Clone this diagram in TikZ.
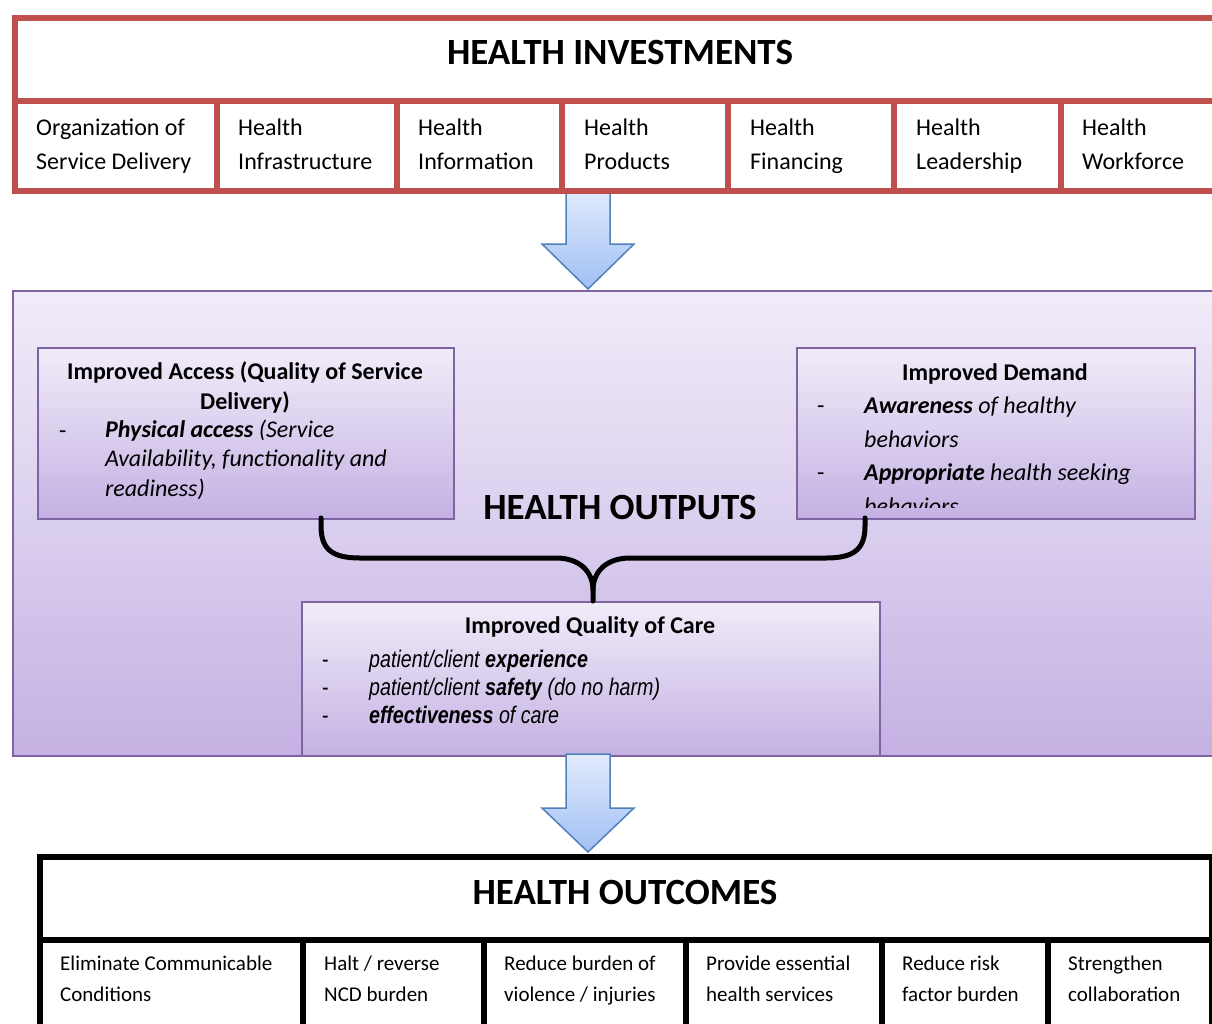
\documentclass[tikz,border=0pt]{standalone}
\usepackage{fontspec}
\setmainfont{Carlito}
\newfontfamily\narrowf[FakeStretch=0.82]{Liberation Sans}
\usetikzlibrary{calc}
\definecolor{invred}{HTML}{C0504D}
\definecolor{purpleedge}{HTML}{8064A2}
\definecolor{purpletop}{HTML}{F1ECF9}
\definecolor{purplebot}{HTML}{C4B1E3}
\definecolor{arrowedge}{HTML}{4F81BD}
\definecolor{arrowtop}{HTML}{E2ECFD}
\definecolor{arrowbot}{HTML}{A0BFF3}
\tikzset{
  invbox/.style={draw=invred, line width=6pt, fill=white, anchor=north west, inner sep=0pt},
  outbox/.style={draw=black, line width=5.5pt, fill=white, anchor=north west, inner sep=0pt},
  purplebox/.style={draw=purpleedge, line width=2pt, top color=purpletop, bottom color=purplebot, anchor=north west, inner sep=0pt},
  blockarrow/.style={draw=arrowedge, line width=1.5pt, top color=arrowtop, bottom color=arrowbot, line join=miter},
  bigtitle/.style={anchor=base, inner sep=0pt, font=\fontsize{37}{44}\selectfont\bfseries},
  celltext/.style={anchor=base west, align=left, inner sep=0pt, font=\fontsize{24}{34}\selectfont},
  smalltext/.style={anchor=base west, align=left, inner sep=0pt, font=\fontsize{21}{31}\selectfont},
  headtext/.style={anchor=base, align=center, inner sep=0pt, font=\fontsize{24}{29.2}\selectfont\bfseries},
  itemtext/.style={anchor=base west, align=left, inner sep=0pt, font=\fontsize{24}{29.2}\selectfont},
  itemtextwide/.style={anchor=base west, align=left, inner sep=0pt, font=\fontsize{24}{33.5}\selectfont},
  qualtext/.style={anchor=base west, align=left, inner sep=0pt, font=\narrowf\fontsize{24}{28}\selectfont},
  bracepath/.style={draw=black, line width=5pt, line cap=round, line join=round},
}
\begin{document}
\begin{tikzpicture}[x=1pt,y=-1pt]
\useasboundingbox (0,0) rectangle (1212,1023);
\clip (0,0) rectangle (1212,1023);
\fill[white] (0,0) rectangle (1212,1023);

% ---- arrow 1 (drawn first, frame covers its top)
\draw[blockarrow] (566,186) -- (610,186) -- (610,244) -- (634,244) -- (588,289) -- (542,244) -- (566,244) -- cycle;

% ---- HEALTH INVESTMENTS (multi-line nodes: base = last line)
\node[invbox, minimum width=1220pt, minimum height=83pt] (invhead) at (12,15) {};
\node[bigtitle] (invtitle) at (620,64) {HEALTH INVESTMENTS};
\node[invbox, minimum width=202pt, minimum height=90pt] (c1) at (12,98) {};
\node[invbox, minimum width=180pt, minimum height=90pt] (c2) at (214,98) {};
\node[invbox, minimum width=165pt, minimum height=90pt] (c3) at (394,98) {};
\node[invbox, minimum width=166pt, minimum height=90pt] (c4) at (559,98) {};
\node[invbox, minimum width=166pt, minimum height=90pt] (c5) at (725,98) {};
\node[invbox, minimum width=167pt, minimum height=90pt] (c6) at (891,98) {};
\node[invbox, minimum width=180pt, minimum height=90pt] (c7) at (1058,98) {};
\node[celltext] (t1) at (36,169) {Organization of\\Service Delivery};
\node[celltext] (t2) at (238,169) {Health\\Infrastructure};
\node[celltext] (t3) at (418,169) {Health\\Information};
\node[celltext] (t4) at (584,169) {Health\\Products};
\node[celltext] (t5) at (750,169) {Health\\Financing};
\node[celltext] (t6) at (916,169) {Health\\Leadership};
\node[celltext] (t7) at (1082,169) {Health\\Workforce};

% ---- HEALTH OUTPUTS
\node[purplebox, minimum width=1220pt, minimum height=465pt] (outputs) at (12,290) {};
\node[purplebox, minimum width=416pt, minimum height=171pt] (access) at (37,347) {};
\node[purplebox, minimum width=398pt, minimum height=171pt] (demand) at (796,347) {};
\node[purplebox, minimum width=578pt, minimum height=154pt] (quality) at (301,601) {};
\node[bigtitle] (outtitle) at (620,519) {HEALTH OUTPUTS};

\node[headtext] (accesshead) at (245,409) {Improved Access (Quality of Service\\Delivery)};
\node[itemtext] (accessdash) at (59,438) {-};
\node[itemtext] (accessitem) at (105,496) {\textbf{\textit{Physical access}} \textit{(Service}\\\textit{Availability, functionality and}\\\textit{readiness)}};

\node[headtext] (demandhead) at (995,380) {Improved Demand};
\begin{scope}
\clip (796,347) rectangle (1194,507);
\node[itemtext] (demanddash1) at (817,413.5) {-};
\node[itemtextwide] (demanditem1) at (864,447) {\textbf{\textit{Awareness}} \textit{of healthy}\\\textit{behaviors}};
\node[itemtext] (demanddash2) at (817,480.5) {-};
\node[itemtextwide] (demanditem2) at (864,514) {\textbf{\textit{Appropriate}} \textit{health seeking}\\\textit{behaviors}};
\end{scope}

\node[headtext] (qualityhead) at (590,633) {Improved Quality of Care};
\node[qualtext] (qualdash) at (322,723) {-\\-\\-};
\node[qualtext] (qualitems) at (369,723) {\textit{patient/client \textbf{experience}}\\\textit{patient/client \textbf{safety} (do no harm)}\\\textit{\textbf{effectiveness} of care}};

% ---- brace
\coordinate (braceL) at (321,518);
\coordinate (braceR) at (865,518);
\coordinate (braceM) at (593,601);
\draw[bracepath] (braceL) -- (321,526) .. controls (321,550) and (333,558) .. (360,558) -- (556,558) .. controls (580,558) and (593,572) .. (593,590) -- (braceM);
\draw[bracepath] (braceR) -- (865,526) .. controls (865,550) and (853,558) .. (826,558) -- (630,558) .. controls (606,558) and (593,572) .. (593,590);

% ---- arrow 2
\draw[blockarrow] (566,754) -- (610,754) -- (610,808) -- (634,808) -- (588,852) -- (542,808) -- (566,808) -- cycle;

% ---- HEALTH OUTCOMES
\node[outbox, minimum width=1172pt, minimum height=83pt] (outhead) at (37,854) {};
\node[bigtitle] (outctitle) at (625,904) {HEALTH OUTCOMES};
\node[outbox, minimum width=263pt, minimum height=100pt] (o1) at (37,937) {};
\node[outbox, minimum width=181pt, minimum height=100pt] (o2) at (300,937) {};
\node[outbox, minimum width=202pt, minimum height=100pt] (o3) at (481,937) {};
\node[outbox, minimum width=196pt, minimum height=100pt] (o4) at (683,937) {};
\node[outbox, minimum width=166pt, minimum height=100pt] (o5) at (879,937) {};
\node[outbox, minimum width=164pt, minimum height=100pt] (o6) at (1045,937) {};
\node[smalltext] (ot1) at (60,1001) {Eliminate Communicable\\Conditions};
\node[smalltext] (ot2) at (324,1001) {Halt / reverse\\NCD burden};
\node[smalltext] (ot3) at (504,1001) {Reduce burden of\\violence / injuries};
\node[smalltext] (ot4) at (706,1001) {Provide essential\\health services};
\node[smalltext] (ot5) at (902,1001) {Reduce risk\\factor burden};
\node[smalltext] (ot6) at (1068,1001) {Strengthen\\collaboration};
\end{tikzpicture}
\end{document}
